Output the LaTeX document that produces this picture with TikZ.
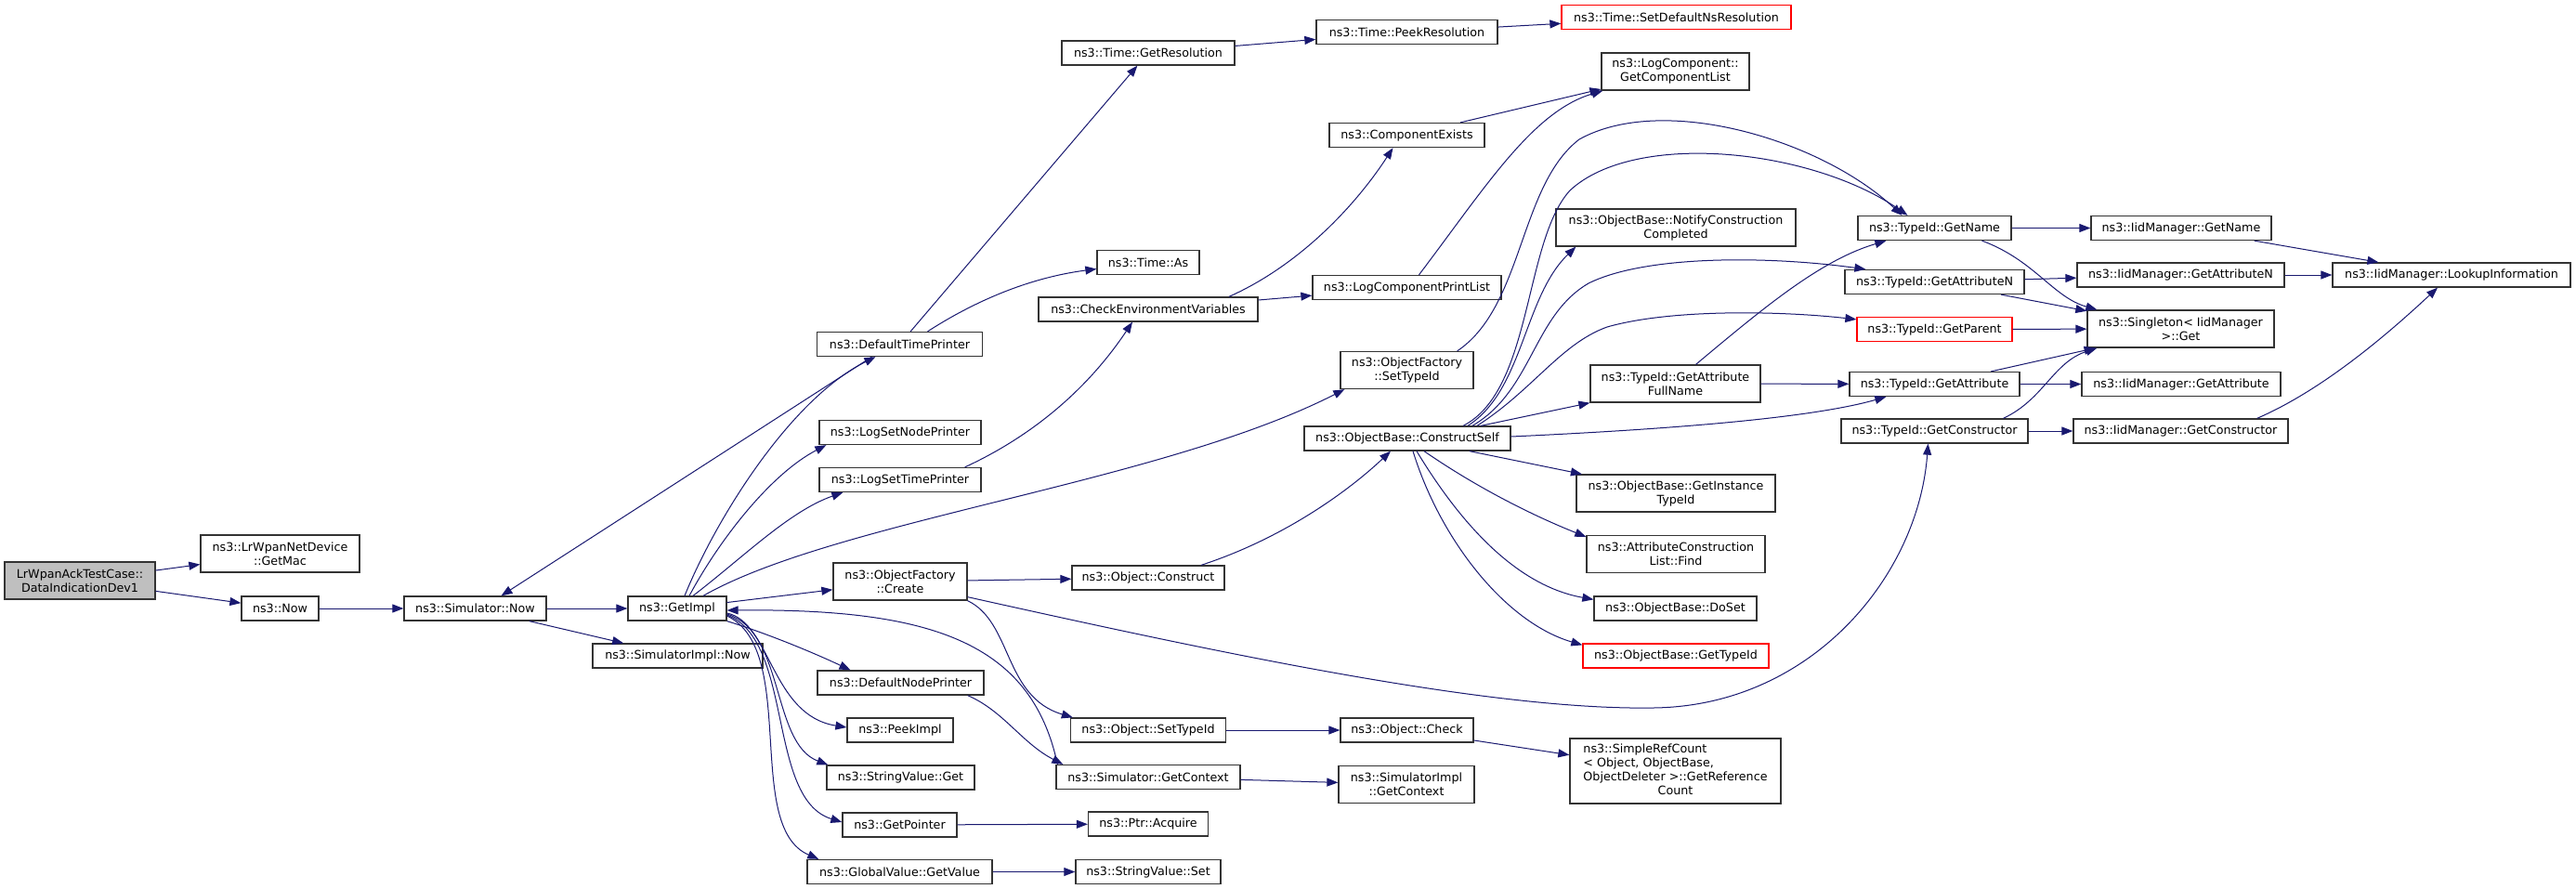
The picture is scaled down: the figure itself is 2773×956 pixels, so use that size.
\documentclass[tikz,border=0pt]{standalone}
\usepackage{fontspec}
\usepackage{xcolor}
\usetikzlibrary{arrows.meta}
\newfontfamily\dvsans{DejaVu Sans}
\definecolor{callblue}{HTML}{191970}
\definecolor{rootgrey}{HTML}{BFBFBF}
\newcommand{\fnfont}{\dvsans\fontsize{12.7}{15}\selectfont}

\begin{document}
\begin{tikzpicture}[
		x = 1pt, y = -1pt,
		fn/.style = {draw = black!80, line width = 1.3pt, fill = white, inner xsep = 2pt, inner ysep = 1pt, minimum height = 26pt, align = center, font = \fnfont},
		fntwo/.style = {fn, minimum height = 40pt},
		undoc/.style = {draw = red},
		calls/.style = {draw = callblue, line width = 1pt, -{Triangle[length = 12pt, width = 9pt]}}
		]
\fill[white] (0,0) rectangle (2773,956);
\useasboundingbox (0,0) rectangle (2773,956);

\node[fntwo, fill = rootgrey, minimum width = 162pt] (root) at (86,625) {LrWpanAckTestCase::\\DataIndicationDev1};
\node[fntwo, minimum width = 171pt] (getmac) at (301.5,596) {ns3::LrWpanNetDevice\\::GetMac};
\node[fn, minimum width = 83pt] (now) at (301.5,655) {ns3::Now};
\node[fn, minimum width = 153pt] (simnow) at (511.5,655) {ns3::Simulator::Now};
\node[fn, minimum width = 106pt] (getimpl) at (729,655) {ns3::GetImpl};
\node[fn, minimum width = 183pt] (simimplnow) at (729.5,706) {ns3::SimulatorImpl::Now};

\node[fn, minimum width = 178pt] (dtp) at (968.5,370.5) {ns3::DefaultTimePrinter};
\node[fn, minimum width = 174pt] (lsnp) at (969,465.5) {ns3::LogSetNodePrinter};
\node[fn, minimum width = 174pt] (lstp) at (969,516.5) {ns3::LogSetTimePrinter};
\node[fntwo, minimum width = 144pt] (ofcreate) at (969,626) {ns3::ObjectFactory\\::Create};
\node[fn, minimum width = 179pt] (dnp) at (969.5,735) {ns3::DefaultNodePrinter};
\node[fn, minimum width = 114pt] (peek) at (969,786) {ns3::PeekImpl};
\node[fn, minimum width = 159pt] (svget) at (969.5,837) {ns3::StringValue::Get};
\node[fn, minimum width = 123pt] (getptr) at (968.5,888) {ns3::GetPointer};
\node[fn, minimum width = 199pt] (gvget) at (968.5,938.5) {ns3::GlobalValue::GetValue};

\node[fn, minimum width = 186pt] (tgetres) at (1236,57) {ns3::Time::GetResolution};
\node[fn, minimum width = 110pt] (tas) at (1236,282.5) {ns3::Time::As};
\node[fn, minimum width = 236pt] (checkenv) at (1236,333) {ns3::CheckEnvironmentVariables};
\node[fn, minimum width = 164pt] (objconstruct) at (1236,622) {ns3::Object::Construct};
\node[fn, minimum width = 167pt] (objsettid) at (1236,786) {ns3::Object::SetTypeId};
\node[fn, minimum width = 198pt] (simgetctx) at (1236,836.5) {ns3::Simulator::GetContext};
\node[fn, minimum width = 129pt] (ptracq) at (1236,887) {ns3::Ptr::Acquire};
\node[fn, minimum width = 156pt] (svset) at (1236,938.5) {ns3::StringValue::Set};

\node[fn, minimum width = 195pt] (tpeek) at (1514.5,34.5) {ns3::Time::PeekResolution};
\node[fn, minimum width = 167pt] (compexists) at (1514.5,145.5) {ns3::ComponentExists};
\node[fn, minimum width = 203pt] (lcpl) at (1514.5,309.5) {ns3::LogComponentPrintList};
\node[fntwo, minimum width = 143pt] (ofsettid) at (1514.5,398.5) {ns3::ObjectFactory\\::SetTypeId};
\node[fn, minimum width = 222pt] (constructself) at (1515,472) {ns3::ObjectBase::ConstructSelf};
\node[fn, minimum width = 143pt] (objcheck) at (1514.5,786) {ns3::Object::Check};
\node[fntwo, minimum width = 146pt] (simimplctx) at (1514,844.5) {ns3::SimulatorImpl\\::GetContext};

\node[fn, undoc, minimum width = 247pt] (setdefns) at (1804.5,18.5) {ns3::Time::SetDefaultNsResolution};
\node[fntwo, minimum width = 159pt] (getcomplist) at (1803.5,77) {ns3::LogComponent::\\GetComponentList};
\node[fntwo, minimum width = 258pt] (notify) at (1804,245) {ns3::ObjectBase::NotifyConstruction\\Completed};
\node[fntwo, minimum width = 183pt] (tgetattrfull) at (1803.5,413) {ns3::TypeId::GetAttribute\\FullName};
\node[fntwo, minimum width = 214pt] (getinsttid) at (1804,531) {ns3::ObjectBase::GetInstance\\TypeId};
\node[fntwo, minimum width = 192pt] (acfind) at (1804,596.5) {ns3::AttributeConstruction\\List::Find};
\node[fn, minimum width = 175pt] (doset) at (1803.5,655) {ns3::ObjectBase::DoSet};
\node[fn, undoc, minimum width = 200pt] (obgettid) at (1804,706) {ns3::ObjectBase::GetTypeId};
\node[fn, minimum width = 227pt, minimum height = 70pt] (refcount) at (1803.5,830) {\begin{tabular}{@{}l@{}}ns3::SimpleRefCount\\< Object, ObjectBase,\\\multicolumn{1}{@{}c@{}}{ObjectDeleter >::GetReference}\\\multicolumn{1}{@{}c@{}}{Count}\end{tabular}};

\node[fn, minimum width = 165pt] (tgetname) at (2082.5,245.5) {ns3::TypeId::GetName};
\node[fn, minimum width = 193pt] (tgetattrn) at (2082.5,303.5) {ns3::TypeId::GetAttributeN};
\node[fn, undoc, minimum width = 167pt] (tgetparent) at (2082.5,354.5) {ns3::TypeId::GetParent};
\node[fn, minimum width = 183pt] (tgetattr) at (2082.5,413.5) {ns3::TypeId::GetAttribute};
\node[fn, minimum width = 201pt] (tgetctor) at (2082.5,464) {ns3::TypeId::GetConstructor};

\node[fn, minimum width = 194pt] (igetname) at (2348,245.5) {ns3::IidManager::GetName};
\node[fn, minimum width = 223pt] (igetattrn) at (2347.5,296) {ns3::IidManager::GetAttributeN};
\node[fntwo, minimum width = 201pt] (singleton) at (2347.5,354) {ns3::Singleton< IidManager\\ >::Get};
\node[fn, minimum width = 214pt] (igetattr) at (2348,413.5) {ns3::IidManager::GetAttribute};
\node[fn, minimum width = 231pt] (igetctor) at (2347.5,464) {ns3::IidManager::GetConstructor};
\node[fn, minimum width = 256pt] (lookup) at (2639,296) {ns3::IidManager::LookupInformation};

\draw[calls] (root) -- (getmac);
\draw[calls] (root) -- (now);
\draw[calls] (now) -- (simnow);
\draw[calls] (simnow) -- (getimpl);
\draw[calls] (simnow) -- (simimplnow);
\draw[calls] ([xshift = -30pt]dtp.south) -- ([xshift = 28pt]simnow.north);

\draw[calls] ([xshift = 8pt]getimpl.north) .. controls (770,560) and (850,430) .. ([xshift = -26pt]dtp.south);
\draw[calls] ([xshift = 13pt]getimpl.north) .. controls (775,580) and (830,510) .. ([xshift = 8pt]lsnp.south west);
\draw[calls] ([xshift = 17pt]getimpl.north) .. controls (800,600) and (850,550) .. ([xshift = 26pt]lstp.south west);
\draw[calls] ([xshift = 28pt]getimpl.north) .. controls (900,560) and (1250,520) .. ([xshift = 5pt]ofsettid.south west);
\draw[calls] (getimpl) -- (ofcreate);
\draw[calls] (getimpl.south east) .. controls (820,680) and (870,700) .. ([xshift = -54pt]dnp.north);
\draw[calls] ([yshift = -5pt]getimpl.east) .. controls (830,670) and (830,770) .. ([yshift = 3pt]peek.west);
\draw[calls] ([yshift = -6pt]getimpl.east) .. controls (845,680) and (830,800) .. ([xshift = 2pt]svget.north west);
\draw[calls] ([yshift = -7pt]getimpl.east) .. controls (855,690) and (825,860) .. ([yshift = 3pt]getptr.west);
\draw[calls] ([yshift = -8pt]getimpl.east) .. controls (860,700) and (800,890) .. ([xshift = 13pt]gvget.north west);
\draw[calls] ([xshift = 2pt]simgetctx.north west) .. controls (1110,690) and (1000,655) .. ([yshift = -2pt]getimpl.east);
\draw[calls] ([xshift = -18pt]dnp.south east) .. controls (1080,765) and (1100,800) .. ([xshift = 8pt]simgetctx.north west);

\draw[calls] (dtp) -- (tgetres);
\draw[calls] ([xshift = 30pt]dtp.north) .. controls (1040,330) and (1100,300) .. ([yshift = -7pt]tas.west);
\draw[calls] ([xshift = -18pt]lstp.north east) .. controls (1110,470) and (1170,420) .. ([xshift = -17pt]checkenv.south);
\draw[calls] (ofcreate) -- (objconstruct);
\draw[calls] (ofcreate.south east) .. controls (1090,670) and (1080,750) .. ([xshift = 3pt]objsettid.north west);
\draw[calls] ([yshift = 4pt]ofcreate.south east) .. controls (1300,700) and (1600,765) .. (1780,762) .. controls (1950,760) and (2065,620) .. ([xshift = -7pt]tgetctor.south);

\draw[calls] (tgetres) -- (tpeek);
\draw[calls] (tpeek) -- (setdefns);
\draw[calls] ([xshift = 87pt]checkenv.north) .. controls (1400,285) and (1460,220) .. ([xshift = -15pt]compexists.south);
\draw[calls] (checkenv) -- (lcpl);
\draw[calls] (compexists) -- (getcomplist);
\draw[calls] ([xshift = 13pt]lcpl.north) .. controls (1600,200) and (1650,120) .. ([xshift = 2pt]getcomplist.south west);
\draw[calls] ([xshift = 57pt]objconstruct.north) .. controls (1380,580) and (1450,530) .. ([xshift = -18pt]constructself.south);
\draw[calls] (objsettid) -- (objcheck);
\draw[calls] (objcheck) -- (refcount);
\draw[calls] (simgetctx) -- (simimplctx);
\draw[calls] (getptr) -- (ptracq);
\draw[calls] (gvget) -- (svset);

\draw[calls] ([xshift = -18pt]ofsettid.north east) .. controls (1640,330) and (1635,200) .. (1700,150) .. controls (1790,100) and (1960,150) .. ([xshift = -35pt]tgetname.north);
\draw[calls] ([xshift = 60pt]constructself.north) .. controls (1650,420) and (1640,260) .. (1690,205) .. controls (1760,140) and (1950,160) .. ([xshift = -29pt]tgetname.north);
\draw[calls] ([xshift = 65pt]constructself.north) .. controls (1640,420) and (1640,320) .. ([xshift = 22pt]notify.south west);
\draw[calls] ([xshift = 70pt]constructself.north) .. controls (1650,420) and (1650,340) .. (1710,305) .. controls (1770,275) and (1900,275) .. ([xshift = 23pt]tgetattrn.north west);
\draw[calls] ([xshift = 75pt]constructself.north) .. controls (1650,420) and (1680,370) .. (1730,352) .. controls (1800,332) and (1920,335) .. ([yshift = -3pt]tgetparent.north west);
\draw[calls] ([xshift = 79pt]constructself.north) -- (tgetattrfull.south west);
\draw[calls] ([yshift = 2pt]constructself.east) .. controls (1800,462) and (1950,450) .. ([xshift = 40pt]tgetattr.south west);
\draw[calls] (constructself) -- (getinsttid);
\draw[calls] ([xshift = 18pt]constructself.south) .. controls (1590,525) and (1650,555) .. ([yshift = -2pt]acfind.north west);
\draw[calls] ([xshift = 10pt]constructself.south) .. controls (1570,560) and (1630,630) .. ([yshift = -4pt]doset.north west);
\draw[calls] ([xshift = 6pt]constructself.south) .. controls (1550,580) and (1620,670) .. ([yshift = -2pt]obgettid.north west);

\draw[calls] ([xshift = 22pt]tgetattrfull.north) .. controls (1900,330) and (1960,280) .. ([xshift = 31pt]tgetname.south west);
\draw[calls] (tgetattrfull) -- (tgetattr);

\draw[calls] (tgetname) -- (igetname);
\draw[calls] ([xshift = 51pt]tgetname.south) .. controls (2190,280) and (2210,320) .. ([xshift = 11pt]singleton.north west);
\draw[calls] (tgetattrn) -- (igetattrn);
\draw[calls] (tgetattrn) -- (singleton);
\draw[calls] (tgetparent) -- (singleton);
\draw[calls] (tgetattr) -- (singleton);
\draw[calls] (tgetattr) -- (igetattr);
\draw[calls] ([xshift = 74pt]tgetctor.north) .. controls (2200,430) and (2210,390) .. ([xshift = 11pt]singleton.south west);
\draw[calls] (tgetctor) -- (igetctor);
\draw[calls] (igetname) -- (lookup);
\draw[calls] (igetattrn) -- (lookup);
\draw[calls] ([xshift = -34pt]igetctor.north east) .. controls (2500,420) and (2570,360) .. ([xshift = -15pt]lookup.south);

\end{tikzpicture}
\end{document}
